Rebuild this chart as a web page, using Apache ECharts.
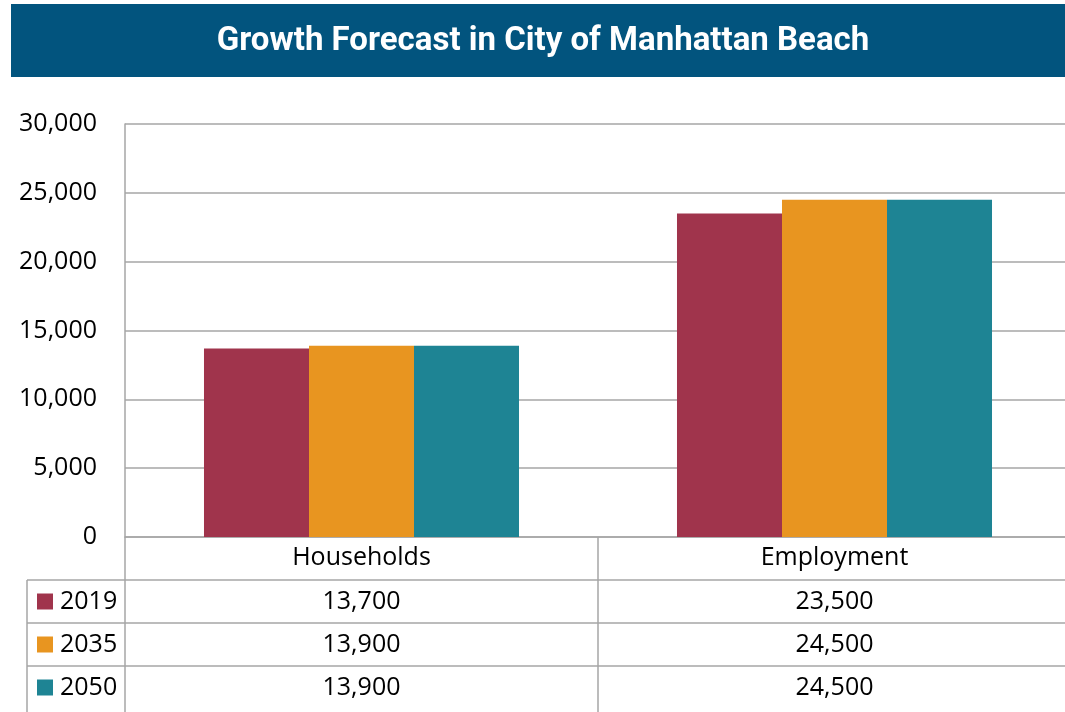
<!DOCTYPE html>
<html>
<head>
<meta charset="utf-8">
<script src="https://cdn.jsdelivr.net/npm/echarts@6/dist/echarts.min.js"></script>
<style>
  html, body { margin: 0; padding: 0; background: #fff; }
  #chart { width: 1065px; height: 712px; }
</style>
</head>
<body>
<div id="chart"></div>
<script>
// 数据
const categories = ['Households', 'Employment'];
const years = ['2019', '2035', '2050'];
const values2019 = [13700, 23500];
const values2035 = [13900, 24500];
const values2050 = [13900, 24500];
const yTicks = { min: 0, max: 30000, interval: 5000 };

const colors = ['#A0344C', '#E89520', '#1E8494'];
const gridColor = '#A6A6A6';
const font = '"Open Sans", "Noto Sans", sans-serif';
const fontSize = 25;
const seriesValues = [values2019, values2035, values2050];

const fmt = v => v.toLocaleString('en-US');

const chart = echarts.init(document.getElementById('chart'), null, { renderer: 'canvas' });

const option = {
  animation: false,
  textStyle: { fontFamily: font },
  grid: { left: 125, width: 946, top: 124, bottom: 175, containLabel: false, outerBoundsMode: 'none' },
  xAxis: {
    type: 'category',
    data: categories,
    axisLine: { lineStyle: { color: gridColor, width: 1.5 } },
    axisTick: { show: false },
    axisLabel: { color: '#000', fontSize: fontSize, margin: 8, fontFamily: font }
  },
  yAxis: {
    type: 'value',
    min: yTicks.min,
    max: yTicks.max,
    interval: yTicks.interval,
    axisLine: { show: true, lineStyle: { color: gridColor, width: 1.5 } },
    axisTick: { show: false },
    splitLine: { lineStyle: { color: gridColor, width: 1.5 } },
    axisLabel: { color: '#000', fontSize: fontSize, margin: 28, fontFamily: font, formatter: v => fmt(v) }
  },
  series: years.map((y, i) => ({
    name: y,
    type: 'bar',
    data: seriesValues[i],
    barGap: 0,
    barCategoryGap: '33.4%',
    itemStyle: { color: colors[i] }
  }))
};
chart.setOption(option);

// 标题栏 + 数据表
const buildGraphics = () => {
  const W = chart.getWidth();
  const H = chart.getHeight();
  const y0 = chart.convertToPixel({ yAxisIndex: 0 }, 0);
  const centers = categories.map((c, i) => chart.convertToPixel({ xAxisIndex: 0 }, i));
  const catW = centers[1] - centers[0];
  const gridLeft = centers[0] - catW / 2;
  const rowH = 43;
  const tableLeft = 27;
  const lineStyle = { stroke: gridColor, lineWidth: 1.5 };
  const els = [];

  // 标题
  els.push({
    type: 'rect', shape: { x: 11, y: 4, width: W - 11, height: 73 },
    style: { fill: '#02547E' }
  });
  els.push({
    type: 'text', x: 543, y: 42,
    style: {
      text: 'Growth Forecast in City of Manhattan Beach',
      fill: '#fff', font: 'bold 33px Roboto, sans-serif',
      textAlign: 'center', textVerticalAlign: 'middle'
    }
  });

  // 表格竖线
  els.push({ type: 'line', shape: { x1: gridLeft, y1: y0, x2: gridLeft, y2: H }, style: lineStyle });
  for (let i = 1; i < categories.length; i++) {
    const x = centers[i] - catW / 2;
    els.push({ type: 'line', shape: { x1: x, y1: y0, x2: x, y2: H }, style: lineStyle });
  }
  els.push({ type: 'line', shape: { x1: tableLeft, y1: y0 + rowH, x2: tableLeft, y2: H }, style: lineStyle });

  // 表格横线与内容
  years.forEach((yr, r) => {
    const top = y0 + rowH * (r + 1);
    const mid = top + rowH / 2;
    els.push({ type: 'line', shape: { x1: tableLeft, y1: top, x2: W, y2: top }, style: lineStyle });
    els.push({
      type: 'rect', shape: { x: tableLeft + 10, y: mid - 8, width: 16, height: 16 },
      style: { fill: colors[r] }
    });
    els.push({
      type: 'text', x: tableLeft + 33, y: mid,
      style: { text: yr, fill: '#000', font: fontSize + 'px ' + font, textVerticalAlign: 'middle' }
    });
    seriesValues[r].forEach((v, c) => {
      els.push({
        type: 'text', x: centers[c], y: mid,
        style: { text: fmt(v), fill: '#000', font: fontSize + 'px ' + font, textAlign: 'center', textVerticalAlign: 'middle' }
      });
    });
  });

  chart.setOption({ graphic: { elements: els } });
};
buildGraphics();
</script>
</body>
</html>
